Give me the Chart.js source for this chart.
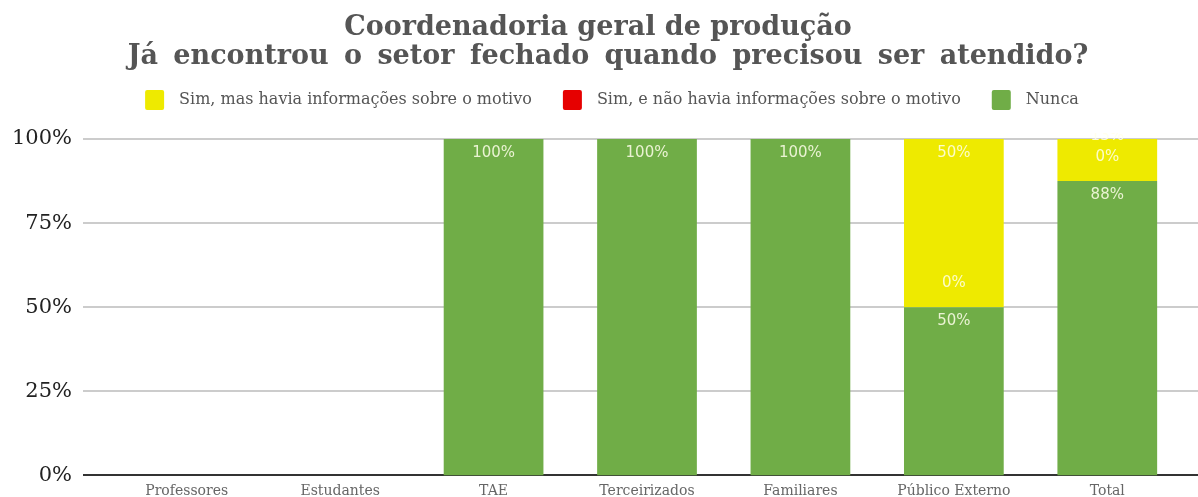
<!DOCTYPE html>
<html>
<head>
<meta charset="utf-8">
<script src="https://cdn.jsdelivr.net/npm/chart.js@4"></script>
<style>
  html, body { margin: 0; padding: 0; background: #fff; overflow: hidden; }
  #wrap { width: 1198px; height: 526px; }
</style>
</head>
<body>
<div id="wrap"><canvas id="chart"></canvas></div>
<script>
// Data
const categories = ['Professores', 'Estudantes', 'TAE', 'Terceirizados', 'Familiares', 'Público Externo', 'Total'];
const nunca = [null, null, 100, 100, 100, 50, 87.5];
const simSemInfo = [null, null, null, null, null, 0, 0];
const simComInfo = [null, null, null, null, null, 50, 12.5];
const yTicks = [0, 25, 50, 75, 100];
const titleLines = ['Coordenadoria geral de produção', 'Já encontrou o setor fechado quando precisou ser atendido?'];

const serif = "'DejaVu Serif', serif";

// Title and legend drawn by hand (spacing of the original)
const headerPlugin = {
    id: 'header',
    afterDraw(chart) {
        const ctx = chart.ctx;
        ctx.save();
        ctx.fillStyle = '#555';
        ctx.textAlign = 'center';
        ctx.textBaseline = 'middle';
        ctx.font = "bold 27px " + serif;
        ctx.fillText(titleLines[0], 598, 28);
        ctx.wordSpacing = '6px';
        ctx.fillText(titleLines[1], 608, 57);
        ctx.wordSpacing = '0px';

        // legend: reversed dataset order
        ctx.font = "16px " + serif;
        const items = chart.data.datasets.slice().reverse();
        const widths = items.map(ds => 19 + 15 + ctx.measureText(ds.label).width);
        const total = widths.reduce((a, b) => a + b, 0) + 31 * (items.length - 1);
        let x = 612 - total / 2;
        ctx.textAlign = 'left';
        items.forEach((ds, k) => {
            ctx.fillStyle = ds.backgroundColor;
            ctx.beginPath();
            ctx.roundRect(x, 90, 19, 20, 2);
            ctx.fill();
            ctx.fillStyle = '#555';
            ctx.fillText(ds.label, x + 34, 100);
            x += widths[k] + 31;
        });
        ctx.restore();
    }
};

// Horizontal grid lines across the full width
const gridPlugin = {
    id: 'fullGrid',
    beforeDatasetsDraw(chart) {
        const ctx = chart.ctx;
        const y = chart.scales.y;
        ctx.save();
        yTicks.forEach(t => {
            const py = Math.round(y.getPixelForValue(t));
            ctx.beginPath();
            ctx.strokeStyle = t === 0 ? '#333' : '#ccc';
            ctx.lineWidth = 2;
            ctx.moveTo(83, py);
            ctx.lineTo(chart.width, py);
            ctx.stroke();
        });
        ctx.restore();
    }
};

// Value labels near the top of each segment
const labelPlugin = {
    id: 'segLabels',
    afterDatasetsDraw(chart) {
        const ctx = chart.ctx;
        const area = chart.chartArea;
        ctx.save();
        ctx.beginPath();
        ctx.rect(0, area.top - 6, chart.width, chart.height);
        ctx.clip();
        ctx.font = "15px 'DejaVu Sans', sans-serif";
        ctx.fillStyle = 'rgba(255,255,235,0.85)';
        ctx.textAlign = 'center';
        ctx.textBaseline = 'middle';
        categories.forEach((c, i) => {
            let prev;
            chart.data.datasets.forEach((ds, d) => {
                const v = ds.data[i];
                if (v === null || v === undefined) return;
                const el = chart.getDatasetMeta(d).data[i];
                let y = v > 0 ? el.y + 14 : el.y - 24;
                if (prev !== undefined && prev - y < 20) y = prev - 21;
                ctx.fillText(Math.round(v) + '%', el.x, y);
                prev = y;
            });
        });
        ctx.restore();
    }
};

new Chart(document.getElementById('chart'), {
    type: 'bar',
    data: {
        labels: categories,
        datasets: [
            { label: 'Nunca', data: nunca, backgroundColor: '#70ad47' },
            { label: 'Sim, e não havia informações sobre o motivo', data: simSemInfo, backgroundColor: '#e60000' },
            { label: 'Sim, mas havia informações sobre o motivo', data: simComInfo, backgroundColor: '#eeea00' }
        ]
    },
    options: {
        responsive: true,
        maintainAspectRatio: false,
        animation: false,
        layout: { padding: { left: 0, right: 14, top: 139, bottom: 0 } },
        datasets: { bar: { barPercentage: 0.65, categoryPercentage: 1 } },
        scales: {
            x: {
                stacked: true,
                afterFit(s) { s.height = 22; },
                grid: { display: false, drawTicks: false },
                border: { display: false },
                ticks: { color: '#666', font: { family: serif, size: 14 }, padding: 8 }
            },
            y: {
                stacked: true,
                min: 0,
                max: 100,
                afterFit(s) { s.width = 110; },
                afterBuildTicks(s) { s.ticks = yTicks.map(v => ({ value: v })); },
                grid: { display: false, drawTicks: false },
                border: { display: false },
                ticks: {
                    color: '#222',
                    padding: 38,
                    font: { family: serif, size: 21 },
                    callback: v => v + '%'
                }
            }
        },
        plugins: {
            title: { display: false },
            legend: { display: false },
            tooltip: { enabled: false }
        }
    },
    plugins: [gridPlugin, labelPlugin, headerPlugin]
});
</script>
</body>
</html>
